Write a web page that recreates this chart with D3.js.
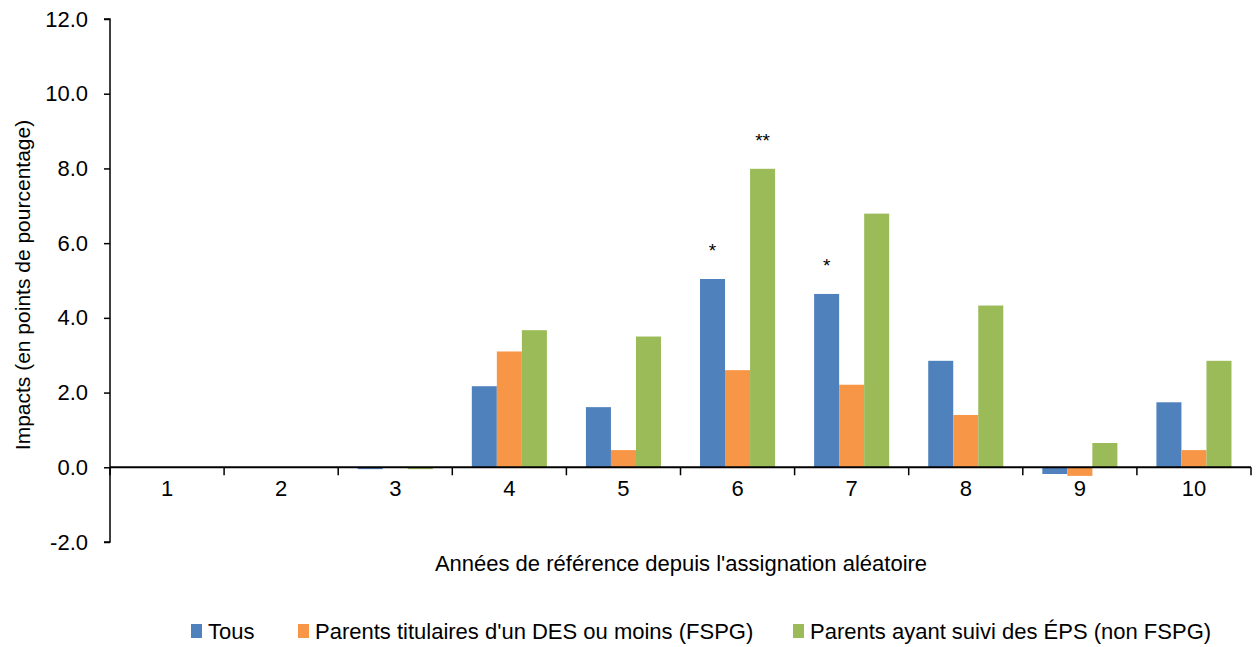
<!DOCTYPE html>
<html><head><meta charset="utf-8">
<script src="https://cdn.jsdelivr.net/npm/d3@7"></script>
<style>
body{margin:0;background:#fff;}
svg text{font-family:"Liberation Sans",Arial,sans-serif;fill:#000;}
</style></head>
<body><svg id="c" width="1260" height="647"></svg>
<script>
const categories = ["1","2","3","4","5","6","7","8","9","10"];
const seriesNames = ["Tous","Parents titulaires d'un DES ou moins (FSPG)","Parents ayant suivi des ÉPS (non FSPG)"];
const tous   = [0, 0, -0.05, 2.17, 1.61, 5.04, 4.64, 2.85, -0.18, 1.74];
const fspg   = [0, 0, 0,     3.10, 0.46, 2.60, 2.21, 1.40, -0.23, 0.46];
const eps    = [0, 0, -0.05, 3.67, 3.50, 7.99, 6.79, 4.33, 0.65, 2.85];
const yTicks = [-2,0,2,4,6,8,10,12];
const stars = [{cat:"6", s:0, label:"*"},{cat:"6", s:2, label:"**"},{cat:"7", s:0, label:"*"}];
const colors = ["#4F81BD","#F79646","#9BBB59"];
const series = [tous, fspg, eps];
const FONT = '"Liberation Sans",Arial,sans-serif';

const svg = d3.select("#c");
const m = {left:110, right:1251, top:19, bottom:542};
const y = d3.scaleLinear().domain([-2,12]).range([m.bottom, m.top]);
const x = d3.scaleBand().domain(categories).range([m.left, m.right]).paddingInner(0).paddingOuter(0);
const inner = d3.scaleBand().domain([0,1,2]).range([0, x.bandwidth()]).paddingOuter(0.78).paddingInner(0);

// bars
series.forEach((vals, s) => {
  svg.append("g").selectAll("rect").data(vals).join("rect")
    .attr("x", (d,i) => x(categories[i]) + inner(s))
    .attr("width", inner.bandwidth())
    .attr("y", d => y(Math.max(0,d)))
    .attr("height", d => Math.abs(y(d) - y(0)))
    .attr("fill", colors[s]);
});

// y axis
const yAxis = d3.axisLeft(y).tickValues(yTicks).tickFormat(d3.format(".1f")).tickSize(6).tickPadding(16);
const gy = svg.append("g").attr("transform", `translate(${m.left},0)`).call(yAxis);
gy.select(".domain").attr("stroke","#000").attr("stroke-width",1.5).attr("d", `M-6,${m.top}H0V${m.bottom}H-6`);
gy.selectAll(".tick line").attr("stroke","#000").attr("stroke-width",1.5);
gy.selectAll("text").attr("font-size", 22).style("font-family",FONT).text(d => d3.format(".1f")(d).replace("−","-"));

// x axis at zero
const xAxis = d3.axisBottom(x).tickSize(0).tickPadding(13);
const gx = svg.append("g").attr("transform", `translate(0,${y(0)})`).call(xAxis);
gx.select(".domain").attr("stroke","#000").attr("stroke-width",2).attr("d", `M${m.left},0H${m.right}`);
gx.selectAll("text").attr("font-size", 22).style("font-family",FONT);
const bounds = categories.map(c => x(c)).concat([x(categories[categories.length-1]) + x.bandwidth()]);
gx.append("g").selectAll("line").data(bounds).join("line")
  .attr("x1", d=>d).attr("x2", d=>d).attr("y1",0).attr("y2",8)
  .attr("stroke","#000").attr("stroke-width",1.5);

// significance stars
svg.append("g").selectAll("text").data(stars).join("text")
  .attr("x", d => x(d.cat) + inner(d.s) + inner.bandwidth()/2)
  .attr("y", d => y(series[d.s][categories.indexOf(d.cat)]) - 22)
  .attr("text-anchor","middle").attr("font-size",19).text(d => d.label);

// axis titles
svg.append("text").attr("transform", `translate(30,285) rotate(-90)`)
  .attr("text-anchor","middle").attr("font-size",21).text("Impacts (en points de pourcentage)");
svg.append("text").attr("x", 681).attr("y", 571).attr("text-anchor","middle").attr("font-size",22)
  .text("Années de référence depuis l'assignation aléatoire");

// legend
const legX = [191, 298, 793];
const lg = svg.append("g");
seriesNames.forEach((n,i) => {
  lg.append("rect").attr("x", legX[i]).attr("y", 624).attr("width",11).attr("height",14).attr("fill",colors[i]);
  lg.append("text").attr("x", legX[i]+17).attr("y", 639).attr("font-size",22).text(n);
});
</script></body></html>
